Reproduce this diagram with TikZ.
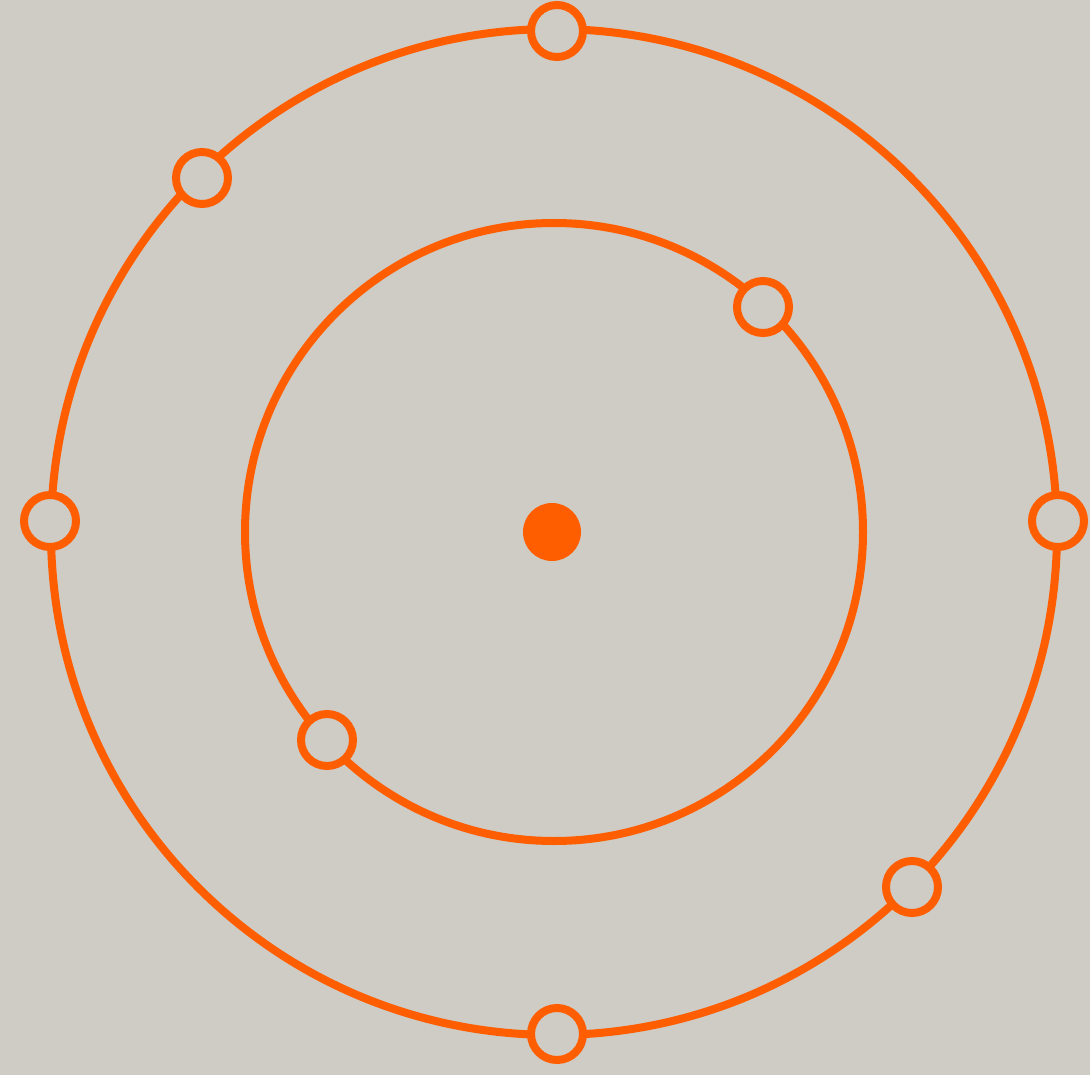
\documentclass[tikz,border=0pt]{standalone}
\usepackage{tikz}
\definecolor{bgc}{HTML}{CFCBC5}
\definecolor{org}{HTML}{FF5E00}
\begin{document}
\begin{tikzpicture}[x=1pt,y=-1pt,
  orbit/.style={draw=org,line width=8pt},
  elec/.style={circle,draw=org,fill=bgc,line width=8pt,minimum size=52pt,inner sep=0pt},
  nucleus/.style={circle,fill=org,minimum size=58pt,inner sep=0pt}]
\fill[bgc] (0,0) rectangle (1090,1075);
\useasboundingbox (0,0) rectangle (1090,1075);
\draw[orbit] (554,532) circle (503);
\draw[orbit] (554,532) circle (309);
\node[nucleus] (n) at (552,532) {};
\node[elec] (o1) at (557,31) {};
\node[elec] (o2) at (202,178) {};
\node[elec] (o3) at (50,521) {};
\node[elec] (o4) at (1058,521) {};
\node[elec] (o5) at (912,887) {};
\node[elec] (o6) at (557,1034) {};
\node[elec] (i1) at (763,307) {};
\node[elec] (i2) at (327,740) {};
\end{tikzpicture}
\end{document}
